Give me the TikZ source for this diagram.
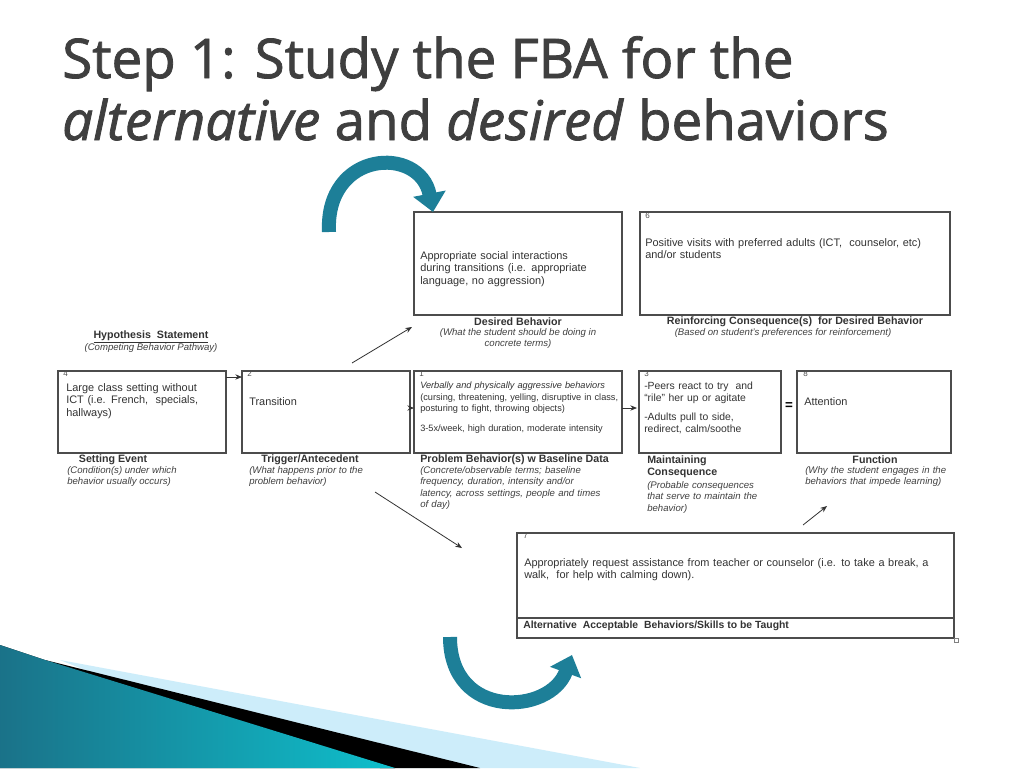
\documentclass[tikz,border=0pt]{standalone}
\usepackage{fontspec}
\setmainfont{Liberation Sans}
\newfontfamily\titlefont{Open Sans}[FakeBold=1.5]
\usetikzlibrary{arrows.meta}
\definecolor{teal1}{HTML}{1D7F98}
\definecolor{ttl}{HTML}{3F3F3F}
\hyphenpenalty=10000 \exhyphenpenalty=10000
\tikzset{
 x=0.75pt,y=-0.75pt,
 bx/.style={draw=black!70,line width=0.8pt},
 tx/.style={anchor=north west,inner sep=0pt,font=\fontsize{8.2}{9.6}\selectfont,text=black!80,align=left},
 sm/.style={anchor=north west,inner sep=0pt,font=\fontsize{7.2}{8.6}\selectfont\itshape,text=black!75,align=left},
 hd/.style={inner sep=0pt,font=\fontsize{8}{9.6}\selectfont\bfseries,text=black!80},
 num/.style={anchor=north west,inner sep=0pt,font=\fontsize{6}{7}\selectfont,text=black!70},
 ar/.style={-{Stealth[length=5pt,width=4pt]},line width=0.6pt,black!80},
 big/.style={line width=10.5pt,teal1,-{Triangle[length=14pt,width=24pt]}}
}
\begin{document}
\begin{tikzpicture}
\useasboundingbox (0,0) rectangle (1024,768);
\fill[white] (0,0) rectangle (1024,768);
% decoration
\fill[black!5!cyan!20] (60,660) -- (640,768) -- (330,768) -- cycle;
\fill[black] (45,660) -- (480,768) -- (380,768) -- cycle;
\fill[left color=teal1!90!black,right color=cyan!50!teal1] (0,645) -- (45,660) -- (395,768) -- (0,768) -- cycle;
% title
\node[anchor=base west,inner sep=0pt,font=\titlefont\fontsize{41}{48}\selectfont,text=ttl] (t1) at (62,78) {Step 1: Study the FBA for the};
\node[anchor=base west,inner sep=0pt,font=\titlefont\fontsize{41}{48}\selectfont,text=ttl] (t2) at (62,140) {\textit{alternative} and \textit{desired} behaviors};
% boxes
\draw[bx] (414,212) rectangle (622,315);
\draw[bx] (640,212) rectangle (950,315);
\draw[bx] (58,371) rectangle (226,453);
\draw[bx] (242,371) rectangle (410,453);
\draw[bx] (414,371) rectangle (622,453);
\draw[bx] (639,371) rectangle (781,453);
\draw[bx] (797,371) rectangle (951,453);
\draw[bx] (517,533) rectangle (954,638);
\draw[bx] (517,618) -- (954,618);
\draw[black!50,line width=0.5pt] (954,638) rectangle (958,642);
% box texts
\node[tx,text width=137pt] (dt) at (420,251) {Appropriate social interactions during transitions (i.e. appropriate language, no aggression)};
\node[num] (n6) at (645,213) {6};
\node[tx,text width=225pt] (t6) at (645,238) {Positive visits with preferred adults (ICT,\ \ counselor, etc) and/or students};
\node[num] (n4) at (63,371) {4};
\node[tx,text width=112pt] (t4) at (66,383) {Large class setting without ICT (i.e. French,\ \ specials, hallways)};
\node[num] (n2) at (247,371) {2};
\node[tx] (t2b) at (249,397) {Transition};
\node[num] (n1) at (419,371) {1};
\node[anchor=north west,inner sep=0pt,font=\fontsize{6.9}{8.6}\selectfont,text=black!80,align=left,text width=152pt] (t1b) at (420,382) {\textit{Verbally and physically aggressive behaviors} (cursing, threatening, yelling, disruptive in class, posturing to fight, throwing objects)\\[6pt]3-5x/week, high duration, moderate intensity};
\node[num] (n3) at (644,371) {3};
\node[anchor=north west,inner sep=0pt,font=\fontsize{7.8}{9}\selectfont,text=black!80,align=left,text width=92pt] (t3) at (644,382) {-Peers react to try\ \ and ``rile'' her up or agitate\\[5pt]-Adults pull to side, redirect, calm/soothe};
\node[num] (n8) at (803,371) {8};
\node[tx] (t8) at (804,397) {Attention};
\node[num] (n7) at (523,533) {7};
\node[tx,text width=315pt] (t7) at (524,558) {Appropriately request assistance from teacher or counselor (i.e. to take a break, a walk,\ \ for help with calming down).};
\node[hd,anchor=west,font=\fontsize{7.8}{9}\selectfont\bfseries] (alt) at (523,626) {Alternative\ \ Acceptable\ \ Behaviors/Skills to be Taught};
% captions
\node[hd] (hy) at (151,337) {\underline{Hypothesis\ \ Statement}};
\node[sm,anchor=north] (hys) at (151,343) {(Competing Behavior Pathway)};
\node[hd] (dh) at (518,322) {Desired Behavior};
\node[sm,anchor=north,align=center] (ds) at (518,328) {(What the student should be doing in\\concrete terms)};
\node[hd] (rh) at (795,322) {Reinforcing Consequence(s)\ \ for Desired Behavior};
\node[sm,anchor=north] (rs) at (783,328) {(Based on student's preferences for reinforcement)};
\node[hd] (sh) at (113,460) {Setting Event};
\node[sm] (ss) at (67,466) {(Condition(s) under which\\behavior usually occurs)};
\node[hd] (th) at (310,460) {Trigger/Antecedent};
\node[sm] (ts) at (249,466) {(What happens prior to the\\problem behavior)};
\node[hd,anchor=west] (ph) at (420,460) {Problem Behavior(s) w Baseline Data};
\node[sm,text width=140pt] (ps) at (420,466) {(Concrete/observable terms; baseline frequency, duration, intensity and/or latency, across settings, people and times of day)};
\node[hd,anchor=north west,align=left] (mh) at (647,455) {Maintaining\\Consequence};
\node[sm,text width=100pt] (ms) at (647,481) {(Probable consequences that serve to maintain the behavior)};
\node[hd] (fh) at (875,460) {Function};
\node[sm,text width=110pt] (fs) at (805,466) {(Why the student engages in the behaviors that impede learning)};
% connectors
\draw[ar] (226,377) -- (242,377);
\draw[ar] (410,408) -- (414,408);
\draw[ar] (622,408) -- (637,408);
\node[inner sep=0pt,font=\bfseries\fontsize{10}{10}\selectfont] (eq) at (789,406) {=};
\coordinate (a1) at (352,363); \coordinate (a2) at (412,327);
\draw[ar] (a1) -- (a2);
\coordinate (b1) at (375,492); \coordinate (b2) at (462,548);
\draw[ar] (b1) -- (b2);
\coordinate (c1) at (803,525); \coordinate (c2) at (827,506);
\draw[ar] (c1) -- (c2);
% big arrows
\coordinate (u1) at (329,232);
\draw[big] (u1) .. controls (325,150) and (420,145) .. (433,212);
\coordinate (l1) at (450,637);
\draw[big] (l1) .. controls (450,720) and (550,715) .. (572,655);
\end{tikzpicture}
\end{document}
